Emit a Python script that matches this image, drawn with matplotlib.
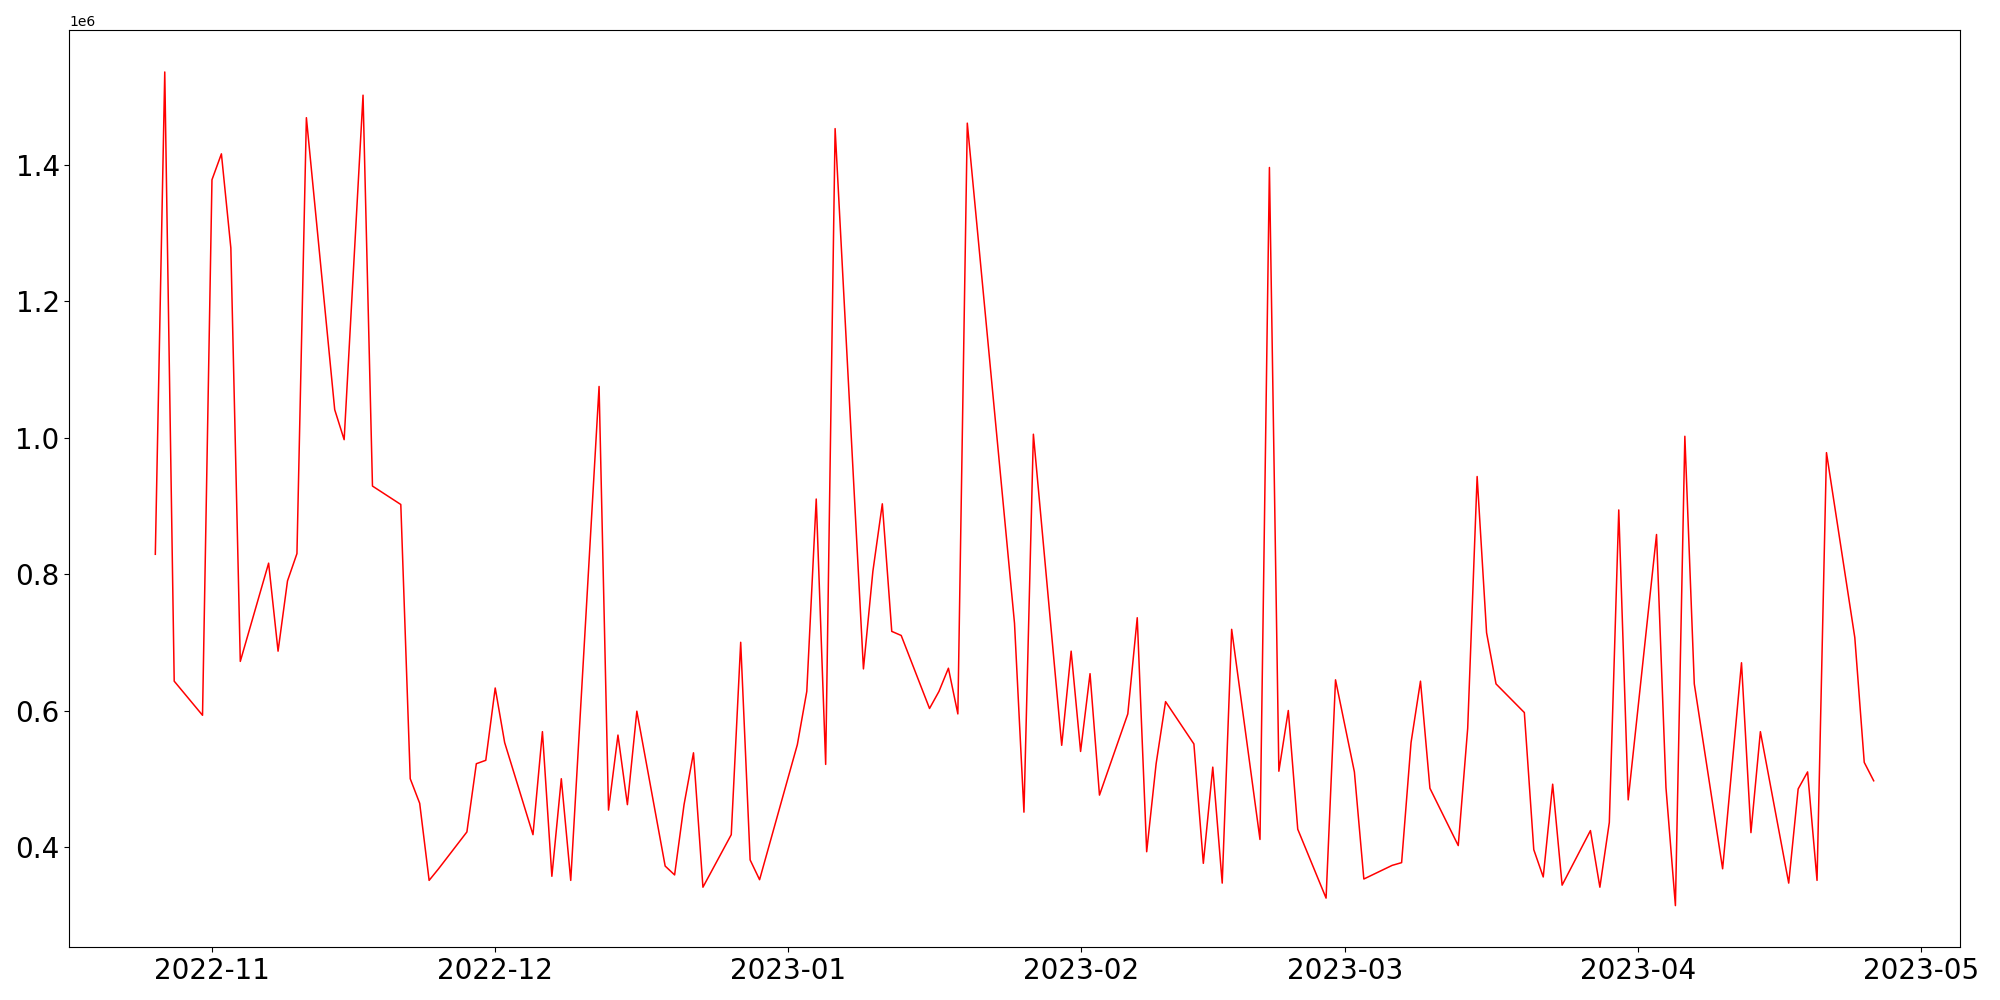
import matplotlib
matplotlib.use("Agg")
import matplotlib.pyplot as plt
import pandas as pd

dates = [
    "2022-10-26", "2022-10-27", "2022-10-28", "2022-10-31", "2022-11-01", "2022-11-02",
    "2022-11-03", "2022-11-04", "2022-11-07", "2022-11-08", "2022-11-09", "2022-11-10",
    "2022-11-11", "2022-11-14", "2022-11-15", "2022-11-17", "2022-11-18", "2022-11-21",
    "2022-11-22", "2022-11-23", "2022-11-24", "2022-11-25", "2022-11-28", "2022-11-29",
    "2022-11-30", "2022-12-01", "2022-12-02", "2022-12-05", "2022-12-06", "2022-12-07",
    "2022-12-08", "2022-12-09", "2022-12-12", "2022-12-13", "2022-12-14", "2022-12-15",
    "2022-12-16", "2022-12-19", "2022-12-20", "2022-12-21", "2022-12-22", "2022-12-23",
    "2022-12-26", "2022-12-27", "2022-12-28", "2022-12-29", "2023-01-02", "2023-01-03",
    "2023-01-04", "2023-01-05", "2023-01-06", "2023-01-09", "2023-01-10", "2023-01-11",
    "2023-01-12", "2023-01-13", "2023-01-16", "2023-01-17", "2023-01-18", "2023-01-19",
    "2023-01-20", "2023-01-25", "2023-01-26", "2023-01-27", "2023-01-30", "2023-01-31",
    "2023-02-01", "2023-02-02", "2023-02-03", "2023-02-06", "2023-02-07", "2023-02-08",
    "2023-02-09", "2023-02-10", "2023-02-13", "2023-02-14", "2023-02-15", "2023-02-16",
    "2023-02-17", "2023-02-20", "2023-02-21", "2023-02-22", "2023-02-23", "2023-02-24",
    "2023-02-27", "2023-02-28", "2023-03-02", "2023-03-03", "2023-03-06", "2023-03-07",
    "2023-03-08", "2023-03-09", "2023-03-10", "2023-03-13", "2023-03-14", "2023-03-15",
    "2023-03-16", "2023-03-17", "2023-03-20", "2023-03-21", "2023-03-22", "2023-03-23",
    "2023-03-24", "2023-03-27", "2023-03-28", "2023-03-29", "2023-03-30", "2023-03-31",
    "2023-04-03", "2023-04-04", "2023-04-05", "2023-04-06", "2023-04-07", "2023-04-10",
    "2023-04-12", "2023-04-13", "2023-04-14", "2023-04-17", "2023-04-18", "2023-04-19",
    "2023-04-20", "2023-04-21", "2023-04-24", "2023-04-25", "2023-04-26",
]

values = [
    829000, 1536000, 643000, 593000, 1378000, 1416000,
    1278000, 672000, 816000, 687000, 790000, 830000,
    1469000, 1041000, 997000, 1502000, 929000, 902000,
    500000, 464000, 351000, 368000, 422000, 522000,
    527000, 633000, 553000, 418000, 569000, 357000,
    500000, 351000, 1075000, 454000, 564000, 462000,
    599000, 372000, 359000, 462000, 538000, 341000,
    418000, 700000, 381000, 352000, 550000, 628000,
    910000, 521000, 1453000, 661000, 804000, 903000,
    716000, 710000, 603000, 628000, 662000, 595000,
    1461000, 728000, 451000, 1005000, 549000, 687000,
    540000, 654000, 476000, 595000, 736000, 393000,
    522000, 613000, 551000, 376000, 517000, 347000,
    719000, 411000, 1396000, 511000, 600000, 426000,
    325000, 645000, 510000, 353000, 373000, 377000,
    553000, 643000, 486000, 402000, 574000, 943000,
    714000, 639000, 597000, 396000, 356000, 492000,
    344000, 424000, 341000, 436000, 894000, 469000,
    858000, 487000, 314000, 1002000, 639000, 368000,
    670000, 421000, 569000, 347000, 485000, 510000,
    351000, 978000, 707000, 524000, 497000,
]

x = pd.to_datetime(dates)

fig = plt.figure(figsize=(20, 10), dpi=100)
ax = fig.add_subplot(111)
fig.subplots_adjust(left=0.0347, right=0.9798, bottom=0.0527, top=0.9697)
ax.plot(x, values, color="red", linewidth=1.1)
ax.tick_params(axis="both", labelsize=20)
fig.savefig("out.png", dpi=100)
